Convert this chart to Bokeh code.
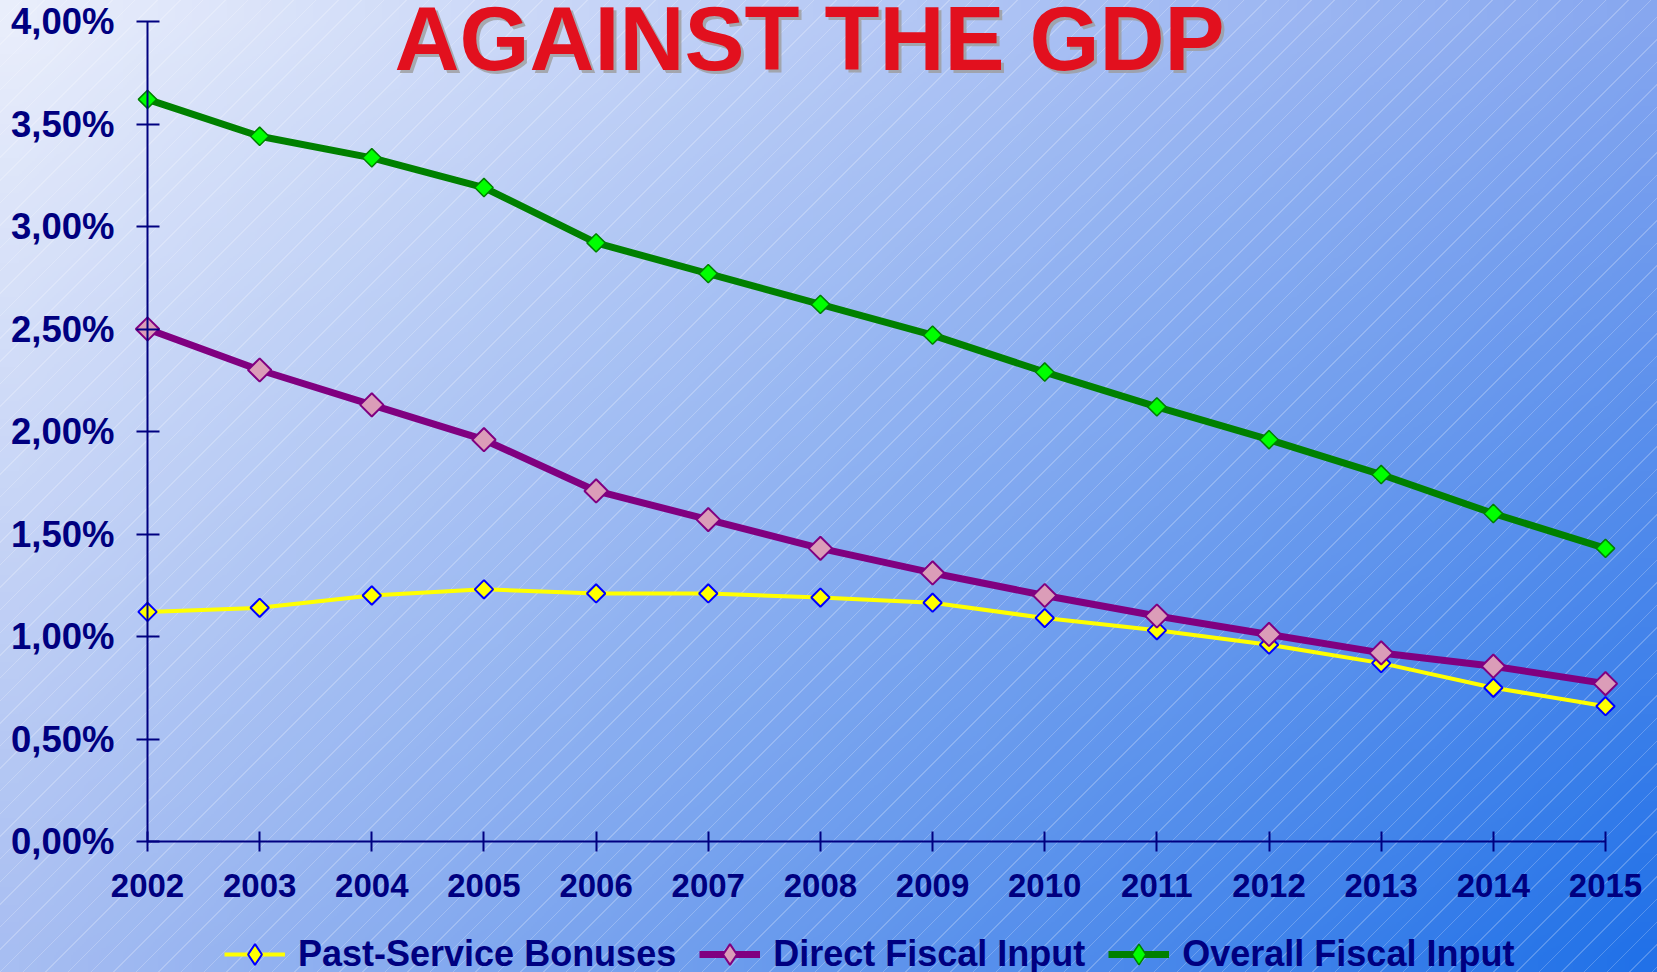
import base64
import struct
import zlib

import numpy as np
from bokeh.embed import file_html
from bokeh.models import FixedTicker, Label, Legend, LegendItem, Range1d
from bokeh.plotting import figure
from bokeh.resources import INLINE

# ---------------- data ----------------
years = [2002, 2003, 2004, 2005, 2006, 2007, 2008, 2009, 2010, 2011, 2012, 2013, 2014, 2015]
past_service_bonuses = [1.12, 1.14, 1.20, 1.23, 1.21, 1.21, 1.19, 1.165, 1.09, 1.03, 0.96, 0.87, 0.75, 0.66]
direct_fiscal_input = [2.50, 2.30, 2.13, 1.96, 1.71, 1.57, 1.43, 1.31, 1.20, 1.10, 1.01, 0.92, 0.855, 0.77]
overall_fiscal_input = [3.62, 3.44, 3.335, 3.19, 2.92, 2.77, 2.62, 2.47, 2.29, 2.12, 1.96, 1.79, 1.60, 1.43]
series_names = ["Past-Service Bonuses", "Direct Fiscal Input", "Overall Fiscal Input"]
y_ticks = [0.0, 0.5, 1.0, 1.5, 2.0, 2.5, 3.0, 3.5, 4.0]
y_tick_labels = ["0,00%", "0,50%", "1,00%", "1,50%", "2,00%", "2,50%", "3,00%", "3,50%", "4,00%"]
x_tick_labels = [str(y) for y in years]
title_text = "AGAINST THE GDP"

# ---------------- layout geometry (pixels) ----------------
W, H = 1657, 972
AX_X0 = 147      # pixel of first year
AX_X1 = 1605     # pixel of last year
AX_Y0 = 841      # pixel of 0 %
AX_Y1 = 21       # pixel of 4 %

pxx = (AX_X1 - AX_X0) / (years[-1] - years[0])
pxy = (AX_Y0 - AX_Y1) / (y_ticks[-1] - y_ticks[0])
x_start = years[0] - AX_X0 / pxx
x_end = years[-1] + (W - AX_X1) / pxx
y_end = y_ticks[-1] + AX_Y1 / pxy
y_start = y_ticks[0] - (H - AX_Y0) / pxy


# ---------------- background gradient (small PNG, scaled by browser) ----------------
def png_uri(arr):
    h, w, _ = arr.shape
    raw = b"".join(b"\x00" + arr[i].astype(np.uint8).tobytes() for i in range(h))

    def chunk(tag, data):
        return struct.pack(">I", len(data)) + tag + data + struct.pack(">I", zlib.crc32(tag + data) & 0xFFFFFFFF)

    png = (b"\x89PNG\r\n\x1a\n" + chunk(b"IHDR", struct.pack(">IIBBBBB", w, h, 8, 2, 0, 0, 0))
           + chunk(b"IDAT", zlib.compress(raw, 9)) + chunk(b"IEND", b""))
    return "data:image/png;base64," + base64.b64encode(png).decode()


gw, gh = 48, 28
c_tl = np.array([236, 240, 252.0])
c_tr = np.array([136, 168, 240.0])
c_bl = np.array([168, 190, 242.0])
c_br = np.array([30, 112, 232.0])
u = (np.arange(gw) + 0.5) / gw
v = (np.arange(gh) + 0.5) / gh
U, V = np.meshgrid(u, v)
U = U[..., None]
V = V[..., None]
grad = (c_tl * (1 - U) * (1 - V) + c_tr * U * (1 - V) + c_bl * (1 - U) * V + c_br * U * V)
bg_uri = png_uri(np.clip(grad, 0, 255))

NAVY = "#000080"
FONT = "Liberation Sans"

p = figure(
    width=W, height=H, output_backend="svg", toolbar_location=None,
    x_range=Range1d(x_start, x_end), y_range=Range1d(y_start, y_end),
    min_border_left=0, min_border_right=0, min_border_top=0, min_border_bottom=0,
)
p.border_fill_color = None
p.background_fill_color = None
p.outline_line_color = None
p.grid.visible = False
p.styles = {
    "background-image": (
        "repeating-linear-gradient(135deg, rgba(255,255,255,0) 0px, rgba(255,255,255,0) 15px, "
        "rgba(255,255,255,0.22) 15px, rgba(255,255,255,0.22) 16px), url(" + bg_uri + ")"
    ),
    "background-size": "auto, 100% 100%",
    "background-repeat": "repeat, no-repeat",
}

# axes
xa = p.xaxis[0]
xa.fixed_location = 0
xa.bounds = (years[0], years[-1])
xa.ticker = FixedTicker(ticks=years)
xa.major_label_overrides = {yr: lab for yr, lab in zip(years, x_tick_labels)}
xa.axis_line_color = NAVY
xa.axis_line_width = 2
xa.major_tick_line_color = NAVY
xa.major_tick_line_width = 2
xa.major_tick_in = 10
xa.major_tick_out = 10
xa.minor_tick_line_color = None
xa.major_label_text_font = FONT
xa.major_label_text_font_style = "bold"
xa.major_label_text_font_size = "33px"
xa.major_label_text_color = NAVY
xa.major_label_standoff = 22

ya = p.yaxis[0]
ya.fixed_location = years[0]
ya.bounds = (y_ticks[0], y_ticks[-1])
ya.ticker = FixedTicker(ticks=y_ticks)
ya.major_label_overrides = {t: lab for t, lab in zip(y_ticks, y_tick_labels)}
ya.axis_line_color = NAVY
ya.axis_line_width = 2
ya.major_tick_line_color = NAVY
ya.major_tick_line_width = 2
ya.major_tick_in = 12
ya.major_tick_out = 11
ya.minor_tick_line_color = None
ya.major_label_text_font = FONT
ya.major_label_text_font_style = "bold"
ya.major_label_text_font_size = "36.5px"
ya.major_label_text_color = NAVY
ya.major_label_standoff = 22

ANG = np.pi / 4
styles = [
    dict(line="#ffff00", lw=4, fill="#ffff00", edge="#0000ff", ew=2, size=13),
    dict(line="#800080", lw=7, fill="#db9db8", edge="#800080", ew=2, size=16.5),
    dict(line="#008000", lw=7, fill="#00ff00", edge="#008000", ew=1.5, size=13),
]
series = [past_service_bonuses, direct_fiscal_input, overall_fiscal_input]

items = []
for name, vals, st in zip(series_names, series, styles):
    rl = p.line(years, vals, line_color=st["line"], line_width=st["lw"])
    p.scatter(years, vals, marker="square", size=st["size"], angle=ANG,
              fill_color=st["fill"], line_color=st["edge"], line_width=st["ew"])
    # hidden renderer, used only for the legend's diamond symbol
    rk = p.scatter(years, vals, marker="diamond", size=st["size"],
                   fill_color=st["fill"], line_color=st["edge"], line_width=st["ew"], visible=False)
    items.append(LegendItem(label=name, renderers=[rl, rk]))

legend = Legend(
    items=items,
    orientation="horizontal",
    location=(224, -8),
    label_text_font=FONT,
    label_text_font_style="bold",
    label_text_font_size="36px",
    label_text_color=NAVY,
    label_standoff=13,
    glyph_width=61,
    glyph_height=52,
    spacing=23,
    padding=0,
    margin=0,
    border_line_color=None,
    background_fill_alpha=0,
    inactive_fill_alpha=0,
)
p.add_layout(legend)

# title with drop shadow
title_cx = 809
title_cy = H - 38
p.add_layout(Label(x=title_cx + 3, y=title_cy - 3, x_units="screen", y_units="screen", text=title_text,
                   text_font=FONT, text_font_style="bold", text_font_size="90px", text_color="#9c9c9c",
                   text_alpha=0.8, text_align="center", text_baseline="middle"))
p.add_layout(Label(x=title_cx, y=title_cy, x_units="screen", y_units="screen", text=title_text,
                   text_font=FONT, text_font_style="bold", text_font_size="90px", text_color="#e2101e",
                   text_align="center", text_baseline="middle"))

open("out.html", "w").write(file_html(p, INLINE))
